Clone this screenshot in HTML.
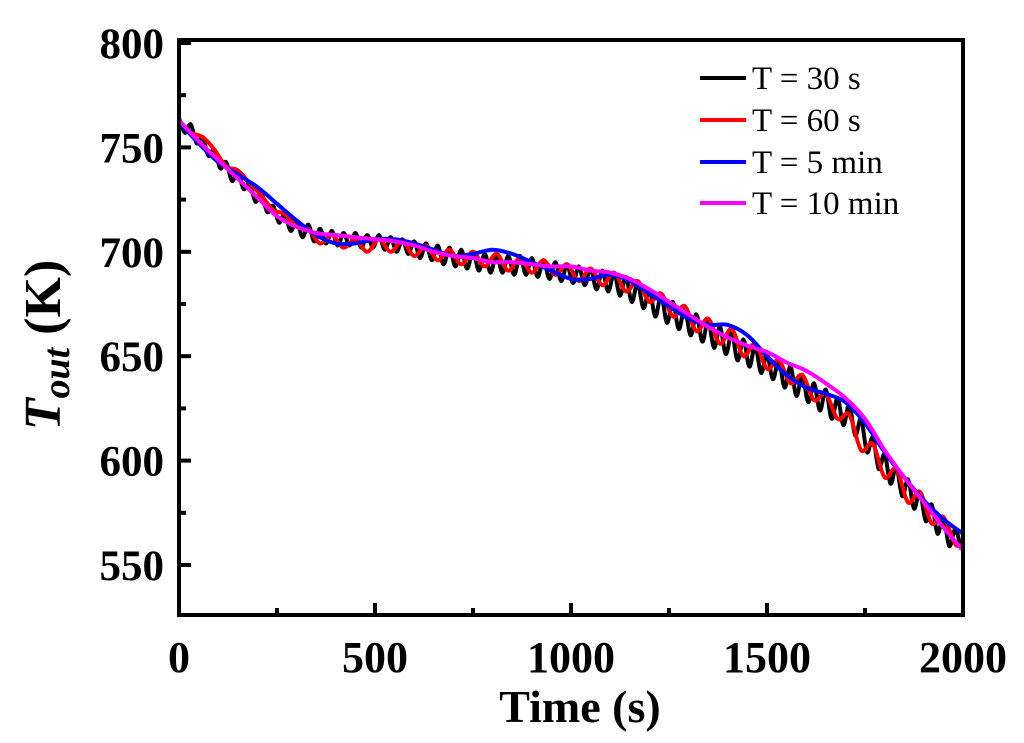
<!DOCTYPE html>
<html><head><meta charset="utf-8"><style>
html,body{margin:0;padding:0;background:#fff;}
svg{display:block;font-family:"Liberation Serif",serif;}
</style></head><body>
<svg id="chart" width="1024" height="743" viewBox="0 0 1024 743" xmlns="http://www.w3.org/2000/svg">
</svg>
<script>
const xTicks=[0,500,1000,1500,2000];
const yTicks=[550,600,650,700,750,800];
const blackT=[];for(let i=0;i<=133;i++)blackT.push(i*15);
const blackV=[764,757,761,752,755,746,749,740,743,734,738,730,733,724,728,719,722,714,718,710,715,707,713,705,711,704,710,703,709,703,709,702,708,702,708,701,707,700,706,699,705,697,704,696,703,694,702,693,701,692,700,691,699,690,699,690,698,689,698,689,697,688,696,687,695,686,694,685,693,684,692,682,691,681,690,679,688,676,685,673,682,669,679,666,676,663,673,660,670,657,667,654,664,651,661,648,658,645,655,642,651,639,648,635,645,631,641,628,637,624,634,620,630,617,627,612,620,604,611,596,603,589,597,583,591,577,585,571,579,565,573,559,567,558];
const redT=[0,30,60,90,120,150,180,210,240,270,300,330,360,390,420,450,480,510,540,570,600,630,660,690,720,750,780,810,840,870,900,930,960,990,1020,1050,1080,1110,1140,1170,1200,1230,1260,1290,1320,1350,1380,1410,1440,1470,1500,1530,1560,1590,1620,1650,1680,1710,1740,1770,1800,1830,1860,1890,1920,1950,1980,2000];
const redV=[762,757,755,749,741,739,733,727,720,718,712,711,704,708,702,706,700,706,700,705,698,703,696,701,694,700,693,699,691,697,690,696,689,694,686,692,684,690,681,686,676,680,669,674,662,668,656,663,650,656,644,648,637,641,629,632,620,622,605,608,592,596,580,585,570,573,560,560];
const smoothT=[];for(let i=0;i<=40;i++)smoothT.push(i*50);
const blueV=[762,752,743,737,731,723,715,708,704,704,706,706,704,701,698,699,701,699,695,691,687,687,689,686,680,674,668,665,665,660,650,641,635,632,628,618,604,592,581,572,565];
const magentaV=[763,753,744,735,726,717,712,709,708,707,706,705,703,700,698,697,695,695,694,693,693,691,690,687,682,676,670,664,659,655,652,647,643,637,630,620,605,592,580,568,557];
const legendLabels=["T = 30 s","T = 60 s","T = 5 min","T = 10 min"];
const colors=["#000000","#ff0000","#0000ff","#ff00ff"];

const NS="http://www.w3.org/2000/svg";
const svg=document.getElementById('chart');
const L=179,R=963,T=40,B=615;
const xS=t=>L+(t/2000)*(R-L);
const yS=v=>43+(800-v)/50*104.4;
function mk(tag,attrs,parent){const e=document.createElementNS(NS,tag);for(const k in attrs)e.setAttribute(k,attrs[k]);(parent||svg).appendChild(e);return e;}

function smoothPath(pts){
  let d='M'+pts[0][0].toFixed(1)+','+pts[0][1].toFixed(1);
  for(let i=0;i<pts.length-1;i++){
    const p0=pts[Math.max(0,i-1)],p1=pts[i],p2=pts[i+1],p3=pts[Math.min(pts.length-1,i+2)];
    const c1x=p1[0]+(p2[0]-p0[0])/6,c1y=p1[1]+(p2[1]-p0[1])/6;
    const c2x=p2[0]-(p3[0]-p1[0])/6,c2y=p2[1]-(p3[1]-p1[1])/6;
    d+='C'+c1x.toFixed(1)+','+c1y.toFixed(1)+' '+c2x.toFixed(1)+','+c2y.toFixed(1)+' '+p2[0].toFixed(1)+','+p2[1].toFixed(1);
  }
  return d;
}
function series(ts,vs,color,name){
  const pts=ts.map((t,i)=>[xS(t),yS(vs[i])]);
  const p=mk('path',{d:smoothPath(pts),fill:'none',stroke:color,'stroke-width':4,'stroke-linejoin':'round','stroke-linecap':'round'});
  
  
}
series(blackT,blackV,colors[0],'series-t30s');
series(redT,redV,colors[1],'series-t60s');
series(smoothT,blueV,colors[2],'series-t5min');
series(smoothT,magentaV,colors[3],'series-t10min');

const fr=mk('rect',{x:L,y:T,width:R-L,height:B-T,fill:'none',stroke:'#000','stroke-width':4});



for(let t=0;t<=2000;t+=250){
  const major=t%500===0;
  mk('line',{x1:xS(t),x2:xS(t),y1:B,y2:B-(major?12:7),stroke:'#000','stroke-width':4});
}
xTicks.forEach(t=>{
  const tx=mk('text',{x:xS(t),y:672,'text-anchor':'middle','font-size':44,'font-weight':'bold'});
  tx.textContent=t;
  
  
});
for(let v=550;v<=800;v+=25){
  const major=v%50===0;
  mk('line',{x1:L,x2:L+(major?12:7),y1:yS(v),y2:yS(v),stroke:'#000','stroke-width':4});
}
yTicks.forEach(v=>{
  const tx=mk('text',{x:164,y:yS(v)+15,'text-anchor':'end','font-size':43,'font-weight':'bold'});
  tx.textContent=v;
  
  
});
const xt=mk('text',{x:580,y:722,'text-anchor':'middle','font-size':46,'font-weight':'bold'});
xt.textContent='Time (s)';


const yt=mk('text',{transform:'translate(60,345) rotate(-90)','text-anchor':'middle','font-size':52,'font-weight':'bold'});


const s1=mk('tspan',{'font-style':'italic'},yt);s1.textContent='T';
const s2=mk('tspan',{'font-style':'italic','font-size':38,dy:9},yt);s2.textContent='out';
const s3=mk('tspan',{dy:-9},yt);s3.textContent=' (K)';

const lg=mk('g',{});


const ly=[78,120,162,203];
legendLabels.forEach((lab,i)=>{
  const g=mk('g',{},lg);
  
  
  mk('line',{x1:700,x2:746,y1:ly[i],y2:ly[i],stroke:colors[i],'stroke-width':4},g);
  const tx=mk('text',{x:752,y:ly[i]+11,'font-size':33},g);
  tx.textContent=lab;
});
</script>
</body></html>
